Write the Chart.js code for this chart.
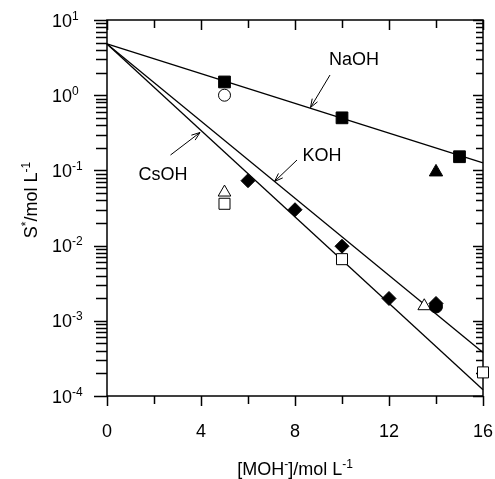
<!DOCTYPE html>
<html>
<head>
<meta charset="utf-8">
<script src="https://cdn.jsdelivr.net/npm/chart.js@4"></script>
<style>
  html, body { margin: 0; padding: 0; background: #fff; }
</style>
</head>
<body>
<canvas id="graf" width="495" height="479"></canvas>
<script>
// Datos
const lineaX = [0, 16];
const naohLinea = [4.8, 0.126];
const kohLinea = [4.8, 0.00038];
const csohLinea = [4.8, 0.000121];

const cuadNegroX = [5, 10, 15];
const cuadNegroY = [1.5, 0.5, 0.152];
const triNegroX = [14];
const triNegroY = [0.095];
const circBlancoX = [5];
const circBlancoY = [1.0];
const triBlancoX = [5, 13.5];
const triBlancoY = [0.051, 0.00157];
const cuadBlancoX = [5, 10, 16];
const cuadBlancoY = [0.036, 0.0066, 0.000206];
const rombosX = [6, 8, 10, 12, 14];
const rombosY = [0.073, 0.030, 0.0098, 0.00198, 0.0017];
const circNegroX = [14];
const circNegroY = [0.00155];

const ticksX = [0, 4, 8, 12, 16];
const decadas = [-4, -3, -2, -1, 0, 1];

const fuente = '"Liberation Sans", Arial, sans-serif';

function puntos(xs, ys) {
  return xs.map((x, i) => ({ x: x, y: ys[i] }));
}

function serie(xs, ys, estilo, radio, relleno, orden) {
  return {
    data: puntos(xs, ys),
    showLine: false,
    pointStyle: estilo,
    pointRadius: radio,
    pointHoverRadius: radio,
    pointBackgroundColor: relleno,
    pointBorderColor: '#000',
    pointBorderWidth: 1,
    clip: false,
    order: orden
  };
}

function linea(ys) {
  return {
    data: puntos(lineaX, ys),
    showLine: true,
    borderColor: '#000',
    borderWidth: 1.3,
    pointRadius: 0,
    fill: false,
    clip: false,
    order: 10
  };
}

// dibuja texto con partes en superindice
function texto(ctx, partes, x, y, align) {
  let ancho = 0;
  partes.forEach(p => {
    ctx.font = (p[1] ? 12 : 18) + 'px ' + fuente;
    ancho += ctx.measureText(p[0]).width;
  });
  let xi = x;
  if (align == 'center') xi = x - ancho / 2;
  if (align == 'right') xi = x - ancho;
  ctx.textAlign = 'left';
  ctx.textBaseline = 'alphabetic';
  partes.forEach(p => {
    ctx.font = (p[1] ? 12 : 18) + 'px ' + fuente;
    ctx.fillText(p[0], xi, p[1] ? y - 7 : y);
    xi += ctx.measureText(p[0]).width;
  });
}

function flecha(ctx, x1, y1, x2, y2) {
  ctx.beginPath();
  ctx.moveTo(x1, y1);
  ctx.lineTo(x2, y2);
  let ang = Math.atan2(y2 - y1, x2 - x1);
  let l = 9, a = 0.35;
  ctx.moveTo(x2 - l * Math.cos(ang - a), y2 - l * Math.sin(ang - a));
  ctx.lineTo(x2, y2);
  ctx.lineTo(x2 - l * Math.cos(ang + a), y2 - l * Math.sin(ang + a));
  ctx.stroke();
}

const ejes = {
  id: 'ejes',
  beforeDatasetsDraw(chart) {
    const ctx = chart.ctx;
    const a = chart.chartArea;
    const sx = chart.scales.x;
    const sy = chart.scales.y;
    ctx.save();
    ctx.strokeStyle = '#000';
    ctx.fillStyle = '#000';
    ctx.lineWidth = 1.5;
    ctx.strokeRect(a.left, a.top, a.right - a.left, a.bottom - a.top);

    // ticks x
    ctx.beginPath();
    for (let v = 0; v <= 16; v += 2) {
      let px = Math.round(sx.getPixelForValue(v)) + 0.5;
      let largo = (v % 4 == 0) ? 10 : 8;
      ctx.moveTo(px, a.bottom);
      ctx.lineTo(px, a.bottom + largo);
      ctx.moveTo(px, a.top);
      ctx.lineTo(px, a.top + largo);
    }
    // ticks y
    decadas.forEach(d => {
      for (let k = 1; k <= 9; k++) {
        if (d == 1 && k > 1) break;
        let v = k * Math.pow(10, d);
        let py = Math.round(sy.getPixelForValue(v)) + 0.5;
        let mayor = k == 1;
        ctx.moveTo(a.left, py);
        ctx.lineTo(a.left - (mayor ? 13 : 11), py);
        ctx.moveTo(a.right, py);
        ctx.lineTo(a.right - (mayor ? 10 : 7), py);
      }
    });
    ctx.stroke();

    // etiquetas x
    ctx.font = '18px ' + fuente;
    ctx.textAlign = 'center';
    ctx.textBaseline = 'alphabetic';
    ticksX.forEach(v => {
      ctx.fillText(String(v), sx.getPixelForValue(v), 437);
    });
    // etiquetas y
    decadas.forEach(d => {
      let py = sy.getPixelForValue(Math.pow(10, d));
      texto(ctx, [['10', false], [String(d), true]], 52, py + 6.5, 'left');
    });

    // titulos
    texto(ctx, [['[MOH', false], ['-', true], [']/mol L', false], ['-1', true]], 295, 475, 'center');
    ctx.save();
    ctx.translate(37, 200);
    ctx.rotate(-Math.PI / 2);
    texto(ctx, [['S', false], ['*', true], ['/mol L', false], ['-1', true]], 0, 0, 'center');
    ctx.restore();

    // anotaciones
    ctx.font = '18px ' + fuente;
    ctx.textAlign = 'center';
    ctx.textBaseline = 'middle';
    ctx.fillText('NaOH', 354, 60);
    ctx.fillText('KOH', 322, 156);
    ctx.fillText('CsOH', 163, 175);
    ctx.lineWidth = 1;
    flecha(ctx, 330, 75, 310.5, 107.5);
    flecha(ctx, 297, 160, 274.5, 181.5);
    flecha(ctx, 170.5, 155, 200, 132.5);
    ctx.restore();
  }
};

let ctx = document.getElementById('graf').getContext('2d');
let graf = new Chart(ctx, {
  type: 'scatter',
  data: {
    datasets: [
      serie(circNegroX, circNegroY, 'circle', 6.5, '#000', 1),
      serie(cuadNegroX, cuadNegroY, 'rect', 8.3, '#000', 2),
      serie(triNegroX, triNegroY, 'triangle', 7.7, '#000', 2),
      serie(circBlancoX, circBlancoY, 'circle', 6, '#fff', 2),
      serie(triBlancoX, triBlancoY, 'triangle', 7.3, '#fff', 2),
      serie(rombosX, rombosY, 'rectRot', 7, '#000', 3),
      serie(cuadBlancoX, cuadBlancoY, 'rect', 7.8, '#fff', 4),
      linea(naohLinea),
      linea(kohLinea),
      linea(csohLinea)
    ]
  },
  options: {
    responsive: false,
    animation: false,
    events: [],
    layout: { padding: { left: 107, right: 12, top: 20, bottom: 83 } },
    plugins: { legend: { display: false }, tooltip: { enabled: false } },
    scales: {
      x: { type: 'linear', min: 0, max: 16, display: false },
      y: { type: 'logarithmic', min: 0.0001, max: 10, display: false }
    }
  },
  plugins: [ejes]
});
</script>
</body>
</html>
